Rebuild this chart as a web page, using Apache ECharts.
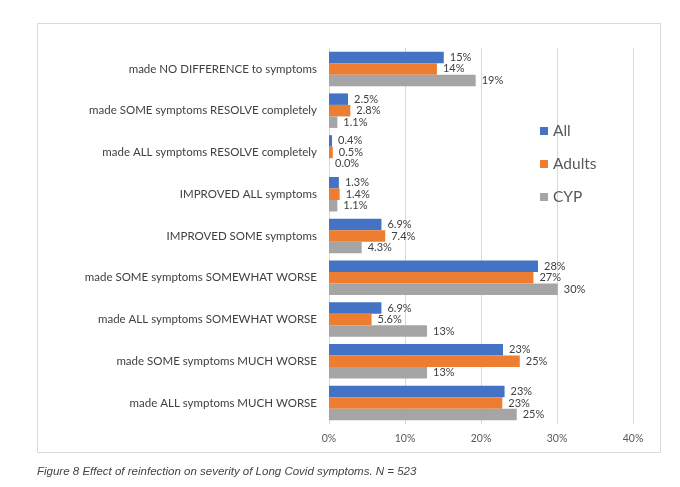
<!DOCTYPE html>
<html>
<head>
<meta charset="utf-8">
<script src="https://cdn.jsdelivr.net/npm/echarts@6/dist/echarts.min.js"></script>
<style>
html,body{margin:0;padding:0;background:#fff;}
#chart{width:680px;height:487px;}
</style>
</head>
<body>
<div id="chart"></div>
<script>
const categories = [
  "made NO DIFFERENCE to symptoms",
  "made SOME symptoms RESOLVE completely",
  "made ALL symptoms RESOLVE completely",
  "IMPROVED ALL symptoms",
  "IMPROVED SOME symptoms",
  "made SOME symptoms SOMEWHAT WORSE",
  "made ALL symptoms SOMEWHAT WORSE",
  "made SOME symptoms MUCH WORSE",
  "made ALL symptoms MUCH WORSE"
];
const allValues    = [15.1, 2.5, 0.4, 1.3, 6.9, 27.5, 6.9, 22.9, 23.1];
const adultsValues = [14.2, 2.8, 0.5, 1.4, 7.4, 26.9, 5.6, 25.1, 22.8];
const cypValues    = [19.3, 1.1, 0.0, 1.1, 4.3, 30.1, 12.9, 12.9, 24.7];
const seriesNames  = ["All", "Adults", "CYP"];
const xTicks = { min: 0, max: 40, interval: 10 };
const caption = "Figure 8 Effect of reinfection on severity of Long Covid symptoms. N = 523";

const colors = ["#4472C4", "#ED7D31", "#A5A5A5"];
const fmt = v => (v >= 10 ? Math.round(v) + "%" : v.toFixed(1) + "%");
const FONT = "Lato";

function mkSeries(name, data, color) {
  return {
    name: name,
    type: "bar",
    data: data,
    barWidth: 11.5,
    barGap: "0%",
    itemStyle: { color: color },
    label: {
      show: true,
      position: "right",
      distance: 6,
      color: "#404040",
      fontFamily: FONT,
      fontSize: 11,
      formatter: p => fmt(p.value)
    }
  };
}

const chart = echarts.init(document.getElementById("chart"), null, { renderer: "canvas" });
chart.setOption({
  animation: false,
  textStyle: { fontFamily: FONT },
  graphic: [
    {
      type: "rect",
      shape: { x: 37.5, y: 23.5, width: 623, height: 429 },
      style: { fill: "none", stroke: "#d9d9d9", lineWidth: 1 },
      z: -1
    },
    {
      type: "text",
      left: 37,
      top: 466,
      style: {
        text: caption,
        font: "italic 11.5px 'Liberation Sans', Arial, sans-serif",
        fill: "#444444"
      }
    }
  ],
  legend: {
    orient: "vertical",
    left: 535,
    top: 118,
    itemWidth: 8,
    itemHeight: 8,
    itemGap: 17,
    icon: "rect",
    textStyle: { color: "#595959", fontSize: 15.5, fontFamily: FONT },
    data: seriesNames
  },
  grid: { left: 329, right: 47, top: 48, bottom: 63, containLabel: false },
  xAxis: {
    type: "value",
    min: xTicks.min,
    max: xTicks.max,
    interval: xTicks.interval,
    axisLine: { show: false },
    axisTick: { show: false },
    splitLine: { show: true, lineStyle: { color: "#d9d9d9", width: 1 } },
    axisLabel: {
      formatter: "{value}%",
      color: "#595959",
      fontSize: 10.5,
      fontFamily: FONT,
      margin: 9
    }
  },
  yAxis: {
    type: "category",
    inverse: true,
    data: categories,
    axisLine: { show: true, lineStyle: { color: "#d9d9d9" } },
    axisTick: { show: false },
    axisLabel: {
      color: "#404040",
      fontSize: 11.5,
      fontFamily: FONT,
      margin: 12
    }
  },
  series: [
    mkSeries(seriesNames[0], allValues, colors[0]),
    mkSeries(seriesNames[1], adultsValues, colors[1]),
    mkSeries(seriesNames[2], cypValues, colors[2])
  ]
});
</script>
</body>
</html>
